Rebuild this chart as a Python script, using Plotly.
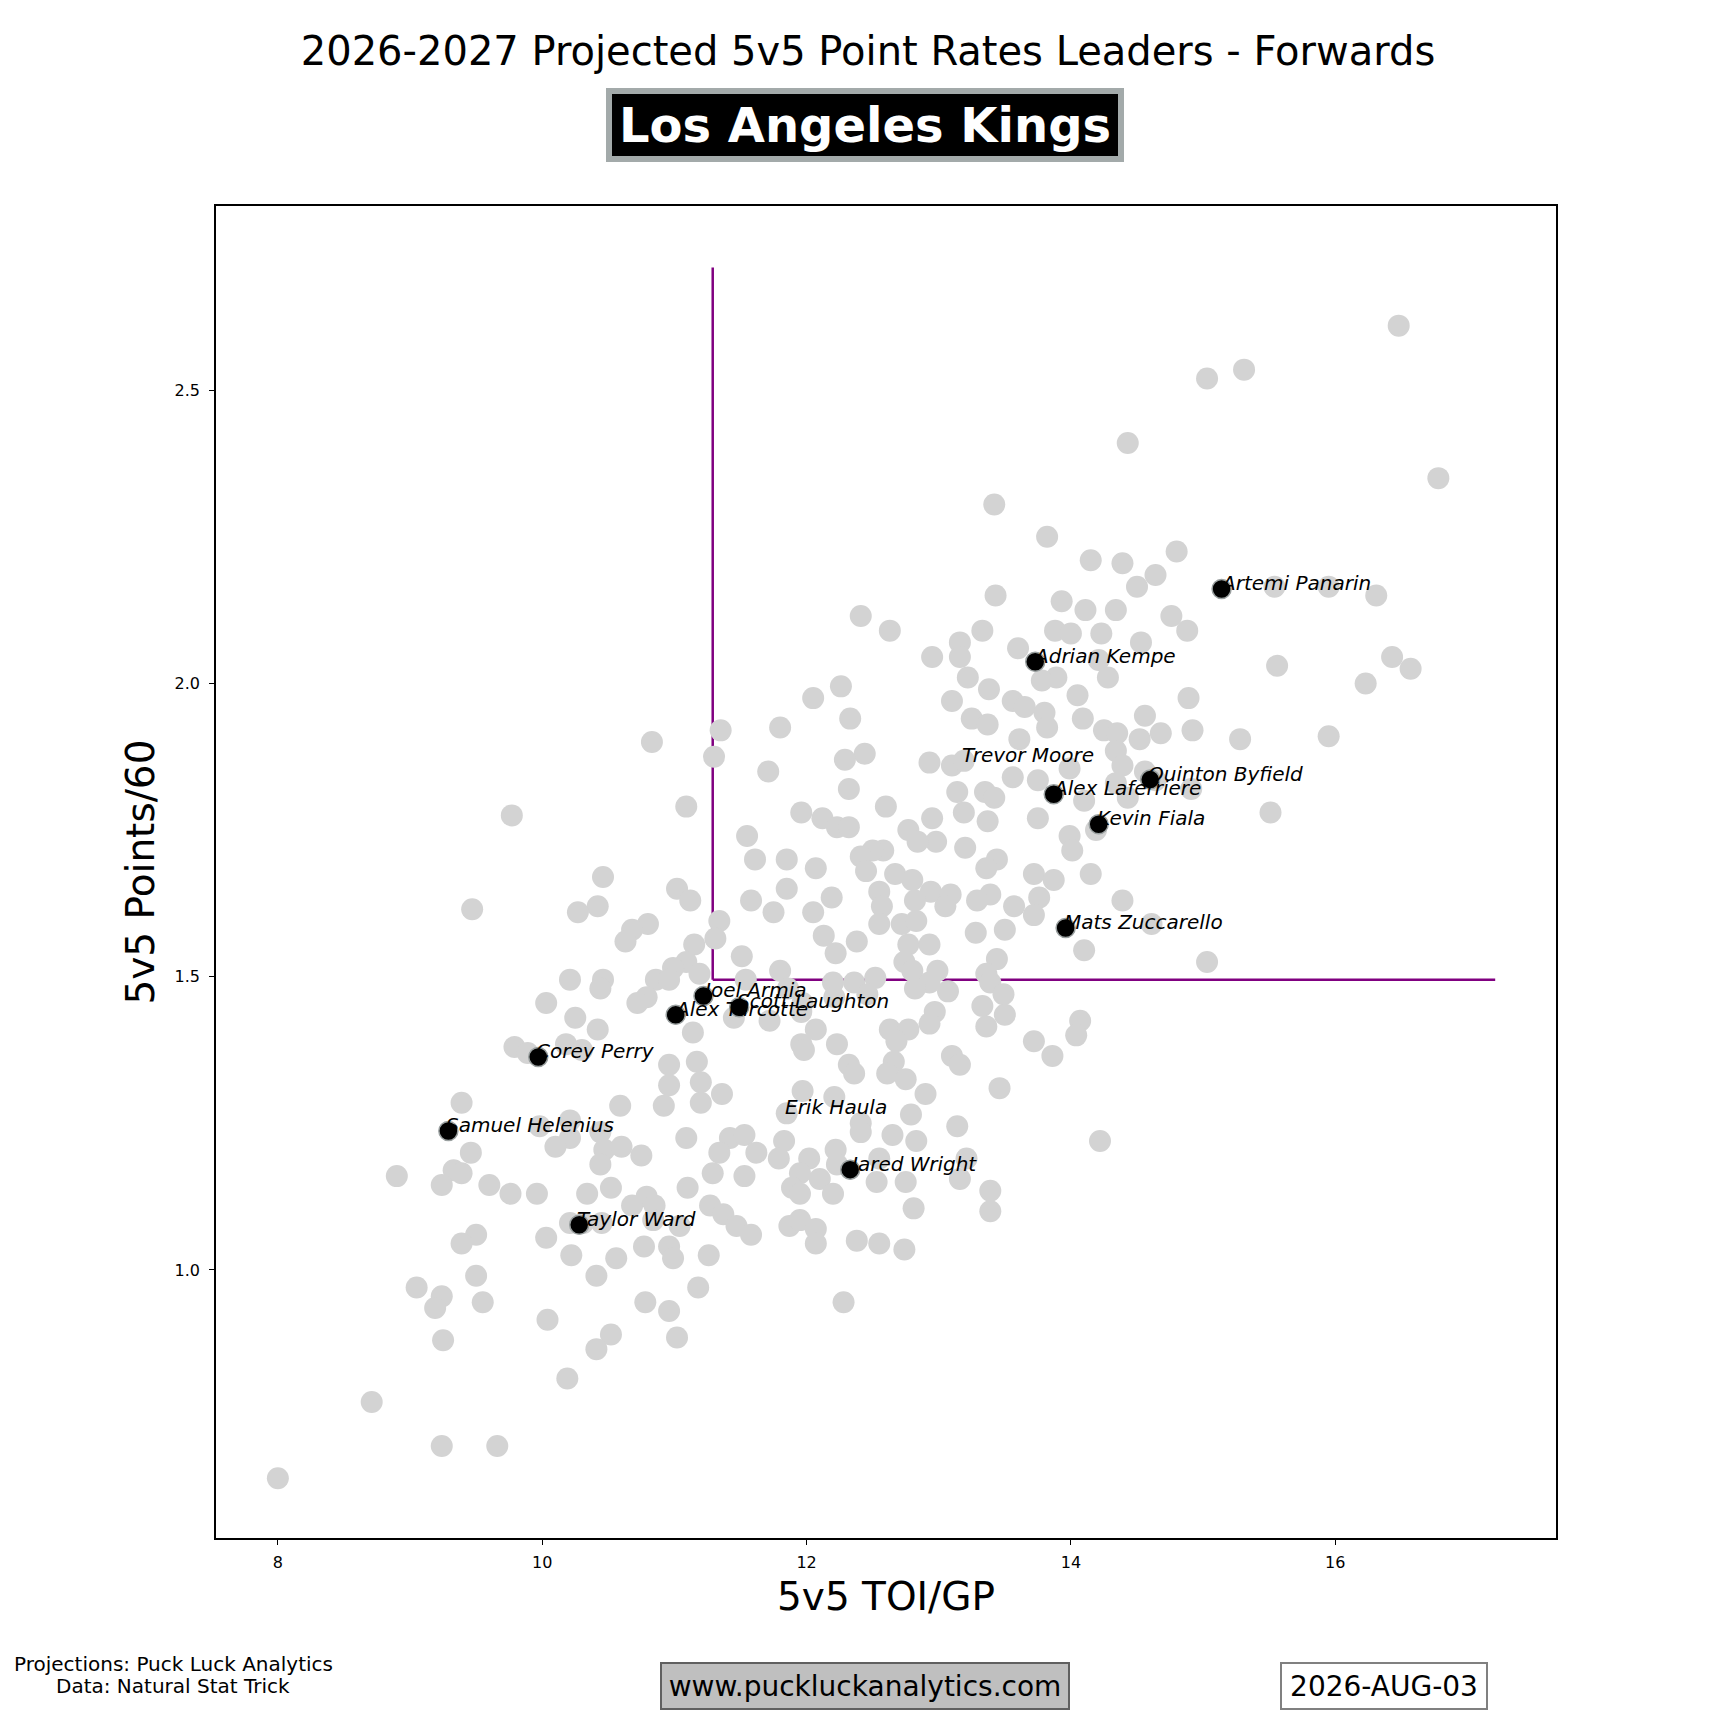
import plotly.graph_objects as go

### 데이터 (league forwards, grey)
league_toi = [
    16.48, 15.31, 15.03, 14.43, 16.78, 13.42, 13.82, 14.80, 14.15, 14.39,
    14.64, 13.43, 13.93, 14.50, 15.54, 15.95, 16.31, 14.11, 14.34, 14.76,
    14.88, 12.41, 12.63, 13.33, 13.88, 14.00, 14.23, 13.16, 13.60, 14.53,
    12.95, 13.16, 14.21, 16.43, 16.57, 15.56, 13.22, 13.89, 14.28, 13.78,
    12.26, 13.38, 16.23, 12.05, 14.05, 14.89, 13.10, 13.56, 14.56, 13.65,
    13.80, 14.09, 12.33, 13.25, 13.37, 11.35, 11.80, 13.82, 14.25, 14.68,
    14.92, 14.35, 13.61, 15.28, 15.95, 10.83, 14.52, 14.34, 12.44, 11.30,
    12.29, 12.93, 13.10, 11.71, 13.56, 13.75, 13.99, 14.56, 14.64, 14.39,
    14.34, 14.91, 15.51, 13.14, 13.35, 13.42, 12.32, 11.09, 12.60, 14.10,
    14.43, 11.96, 12.12, 13.75, 13.37, 13.19, 12.95, 9.77, 12.23, 12.32,
    13.99, 14.19, 11.55, 12.77, 12.98, 12.84, 13.20, 12.58, 12.50, 12.41,
    14.01, 11.61, 11.85, 13.44, 13.36, 12.45, 12.67, 12.07, 14.15, 10.46,
    13.72, 13.87, 12.80, 11.02, 11.85, 12.55, 12.94, 13.09, 13.39, 12.19,
    13.76, 13.57, 11.12, 11.58, 12.57, 12.82, 14.39, 13.05, 13.72, 13.29,
    10.42, 10.27, 9.47, 11.75, 12.05, 11.34, 12.72, 12.83, 14.61, 13.50,
    10.80, 10.68, 12.55, 12.13, 13.28, 10.63, 12.38, 12.77, 12.93, 14.10,
    11.15, 11.31, 12.22, 11.51, 15.03, 12.74, 13.44, 11.09, 10.99, 12.80,
    11.80, 12.99, 13.36, 11.19, 10.86, 10.96, 10.21, 10.46, 12.52, 12.20,
    12.36, 12.93, 13.39, 11.54, 10.44, 11.86, 12.82, 13.07, 13.49, 10.79,
    12.21, 12.46, 11.97, 10.03, 10.72, 13.33, 10.25, 11.45, 11.72, 11.96,
    12.97, 13.50, 14.07, 12.07, 13.36, 12.63, 12.77, 10.42, 11.14, 14.04,
    12.93, 13.72, 10.18, 11.96, 12.23, 12.68, 9.79, 9.89, 11.98, 10.30,
    10.96, 11.17, 13.10, 13.16, 12.32, 12.66, 13.86, 12.36, 12.61, 12.75,
    10.96, 11.20, 11.97, 12.90, 11.36, 13.46, 9.39, 10.59, 10.92, 11.20,
    12.21, 12.41, 12.79, 10.21, 9.98, 13.14, 10.44, 10.21, 11.09, 11.42,
    11.53, 12.65, 12.41, 12.83, 14.22, 11.83, 9.46, 10.10, 10.47, 10.60,
    11.34, 11.62, 12.22, 10.75, 12.02, 12.55, 13.21, 11.79, 10.44, 9.33,
    9.39, 8.90, 11.95, 12.23, 11.29, 11.53, 12.10, 13.16, 9.60, 9.24,
    11.10, 11.89, 12.53, 12.75, 9.76, 9.96, 11.95, 13.39, 12.20, 10.34,
    10.79, 10.52, 10.85, 10.68, 11.27, 11.37, 12.81, 13.39, 10.84, 10.31,
    10.21, 10.45, 11.04, 11.47, 11.58, 11.87, 11.95, 12.07, 10.03, 9.50,
    9.39, 12.07, 12.38, 12.55, 12.74, 10.77, 10.96, 10.22, 10.56, 10.99,
    11.26, 9.50, 10.41, 9.05, 11.18, 9.24, 9.19, 9.55, 10.78, 10.96,
    12.28, 10.04, 10.52, 9.25, 11.02, 10.41, 10.19, 8.71, 9.66, 9.24,
    8.00, 13.19, 11.85,
]
league_pts = [
    2.610, 2.535, 2.520, 2.410, 2.350, 2.305, 2.250, 2.225, 2.210, 2.205,
    2.185, 2.150, 2.140, 2.165, 2.165, 2.165, 2.150, 2.125, 2.125, 2.115,
    2.090, 2.115, 2.090, 2.090, 2.090, 2.085, 2.085, 2.070, 2.060, 2.070,
    2.045, 2.045, 2.040, 2.045, 2.025, 2.030, 2.010, 2.010, 2.010, 2.005,
    1.995, 1.990, 2.000, 1.975, 1.980, 1.975, 1.970, 1.970, 1.945, 1.960,
    1.950, 1.940, 1.940, 1.940, 1.930, 1.920, 1.925, 1.925, 1.920, 1.915,
    1.920, 1.915, 1.905, 1.905, 1.910, 1.900, 1.905, 1.885, 1.880, 1.875,
    1.870, 1.865, 1.860, 1.850, 1.840, 1.835, 1.855, 1.850, 1.835, 1.860,
    1.830, 1.820, 1.780, 1.815, 1.815, 1.805, 1.820, 1.790, 1.790, 1.800,
    1.805, 1.780, 1.770, 1.770, 1.765, 1.780, 1.770, 1.775, 1.755, 1.755,
    1.740, 1.750, 1.740, 1.750, 1.730, 1.730, 1.720, 1.715, 1.715, 1.705,
    1.715, 1.700, 1.700, 1.700, 1.685, 1.680, 1.675, 1.685, 1.675, 1.670,
    1.675, 1.665, 1.665, 1.650, 1.650, 1.645, 1.645, 1.640, 1.640, 1.635,
    1.635, 1.620, 1.630, 1.630, 1.620, 1.630, 1.630, 1.620, 1.605, 1.630,
    1.620, 1.610, 1.615, 1.610, 1.610, 1.595, 1.590, 1.595, 1.590, 1.580,
    1.590, 1.580, 1.590, 1.570, 1.575, 1.560, 1.560, 1.555, 1.555, 1.545,
    1.555, 1.565, 1.540, 1.535, 1.525, 1.525, 1.530, 1.525, 1.515, 1.510,
    1.510, 1.510, 1.505, 1.505, 1.495, 1.495, 1.495, 1.495, 1.498, 1.490,
    1.490, 1.490, 1.490, 1.495, 1.480, 1.480, 1.480, 1.475, 1.470, 1.465,
    1.465, 1.470, 1.455, 1.455, 1.455, 1.450, 1.430, 1.430, 1.425, 1.440,
    1.440, 1.435, 1.425, 1.410, 1.415, 1.410, 1.410, 1.410, 1.405, 1.400,
    1.420, 1.390, 1.385, 1.385, 1.385, 1.390, 1.380, 1.370, 1.375, 1.375,
    1.350, 1.355, 1.365, 1.350, 1.350, 1.355, 1.365, 1.335, 1.335, 1.325,
    1.315, 1.320, 1.305, 1.300, 1.300, 1.310, 1.285, 1.280, 1.280, 1.285,
    1.295, 1.250, 1.265, 1.255, 1.245, 1.245, 1.235, 1.225, 1.225, 1.225,
    1.230, 1.230, 1.235, 1.220, 1.220, 1.220, 1.200, 1.210, 1.205, 1.210,
    1.200, 1.200, 1.205, 1.195, 1.190, 1.190, 1.190, 1.190, 1.180, 1.170,
    1.165, 1.160, 1.165, 1.180, 1.165, 1.160, 1.155, 1.155, 1.145, 1.145,
    1.140, 1.140, 1.150, 1.150, 1.130, 1.130, 1.130, 1.135, 1.130, 1.130,
    1.125, 1.140, 1.110, 1.110, 1.110, 1.095, 1.105, 1.100, 1.085, 1.080,
    1.080, 1.080, 1.075, 1.075, 1.060, 1.075, 1.085, 1.070, 1.055, 1.060,
    1.045, 1.045, 1.050, 1.045, 1.035, 1.040, 1.040, 1.025, 1.020, 1.020,
    1.025, 0.990, 0.990, 0.970, 0.970, 0.955, 0.935, 0.945, 0.945, 0.930,
    0.945, 0.915, 0.890, 0.880, 0.885, 0.865, 0.815, 0.775, 0.700, 0.700,
    0.645, 1.868, 1.267,
]

### 데이터 (Kings forwards, black)
kings_names = ['Artemi Panarin', 'Adrian Kempe', 'Trevor Moore', 'Quinton Byfield',
               'Alex Laferriere', 'Kevin Fiala', 'Mats Zuccarello', 'Joel Armia',
               'Scott Laughton', 'Alex Turcotte', 'Corey Perry', 'Erik Haula',
               'Samuel Helenius', 'Jared Wright', 'Taylor Ward']
kings_toi = [15.14, 13.73, 13.19, 14.60, 13.87, 14.21, 13.96, 11.22,
             11.49, 11.01, 9.97, 11.85, 9.29, 12.33, 10.28]
kings_pts = [2.161, 2.037, 1.868, 1.836, 1.811, 1.760, 1.583, 1.467,
             1.448, 1.435, 1.363, 1.267, 1.237, 1.171, 1.077]
# 회색 점 아래에 가려진 선수
hidden = ['Trevor Moore', 'Erik Haula']

### 기준선
vline_x = [11.29, 11.29]
vline_y = [1.495, 2.709]
hline_x = [11.29, 17.21]
hline_y = [1.495, 1.495]

font = 'DejaVu Sans'

hid_x = [x for x, n in zip(kings_toi, kings_names) if n in hidden]
hid_y = [y for y, n in zip(kings_pts, kings_names) if n in hidden]
vis_x = [x for x, n in zip(kings_toi, kings_names) if n not in hidden]
vis_y = [y for y, n in zip(kings_pts, kings_names) if n not in hidden]

fig = go.Figure()
fig.add_trace(go.Scatter(x=vline_x, y=vline_y, mode='lines',
                         line=dict(color='#800080', width=2.5), hoverinfo='skip'))
fig.add_trace(go.Scatter(x=hline_x, y=hline_y, mode='lines',
                         line=dict(color='#800080', width=2.5), hoverinfo='skip'))
fig.add_trace(go.Scatter(x=hid_x, y=hid_y, mode='markers',
                         marker=dict(color='black', size=19,
                                     line=dict(color='#9aa0a0', width=1.5))))
fig.add_trace(go.Scatter(x=league_toi, y=league_pts, mode='markers',
                         marker=dict(color='#d3d3d3', size=22, line=dict(width=0))))
fig.add_trace(go.Scatter(x=vis_x, y=vis_y, mode='markers',
                         marker=dict(color='black', size=19,
                                     line=dict(color='#9aa0a0', width=1.5))))

# 선수 이름 라벨
for n, x, y in zip(kings_names, kings_toi, kings_pts):
    fig.add_annotation(x=x, y=y, text='<i>' + n + '</i>', showarrow=False,
                       xanchor='left', yanchor='bottom', yshift=-8, xshift=-4,
                       font=dict(family=font, size=20, color='black'))

# 팀 이름 박스
fig.add_annotation(xref='paper', yref='paper', x=0.484, y=1.0608,
                   xanchor='center', yanchor='middle',
                   text='<b>Los Angeles Kings</b>', showarrow=False,
                   font=dict(family=font, size=48, color='white'), width=500,
                   bgcolor='black', bordercolor='#a3aaaa', borderwidth=6, borderpad=3)
# 하단 텍스트
fig.add_annotation(xref='paper', yref='paper', x=-0.032, y=-0.0943,
                   xanchor='center', yanchor='middle',
                   text='Projections: Puck Luck Analytics', showarrow=False,
                   font=dict(family=font, size=20, color='black'))
fig.add_annotation(xref='paper', yref='paper', x=-0.032, y=-0.1109,
                   xanchor='center', yanchor='middle',
                   text='Data: Natural Stat Trick', showarrow=False,
                   font=dict(family=font, size=20, color='black'))
fig.add_annotation(xref='paper', yref='paper', x=0.484, y=-0.1109,
                   xanchor='center', yanchor='middle',
                   text='www.puckluckanalytics.com', showarrow=False,
                   font=dict(family=font, size=28, color='black'), width=394, height=32,
                   bgcolor='#bfbfbf', bordercolor='#606060', borderwidth=2, borderpad=6)
fig.add_annotation(xref='paper', yref='paper', x=0.8716, y=-0.1109,
                   xanchor='center', yanchor='middle',
                   text='2026-AUG-03', showarrow=False,
                   font=dict(family=font, size=28, color='black'), width=192, height=32,
                   bgcolor='white', bordercolor='#808080', borderwidth=2, borderpad=6)

fig.update_layout(
    width=1720, height=1720,
    margin=dict(l=208, r=172, t=198, b=190),
    paper_bgcolor='white', plot_bgcolor='white',
    showlegend=False,
    font=dict(family=font, color='black'),
    title=dict(text='2026-2027 Projected 5v5 Point Rates Leaders - Forwards',
               x=0.5, xanchor='center', y=1 - 43 / 1720, yanchor='middle',
               font=dict(family=font, size=40, color='black')),
    xaxis=dict(range=[7.532, 17.67], tickvals=[8, 10, 12, 14, 16],
               showgrid=False, zeroline=False, showline=True, mirror=True,
               linecolor='black', linewidth=1.5, ticks='outside', ticklen=5,
               tickcolor='black', tickfont=dict(size=16), ticklabelstandoff=4,
               title=dict(text='5v5 TOI/GP', font=dict(size=39), standoff=12)),
    yaxis=dict(range=[0.543, 2.814], tickvals=[1.0, 1.5, 2.0, 2.5], tickformat='.1f',
               showgrid=False, zeroline=False, showline=True, mirror=True,
               linecolor='black', linewidth=1.5, ticks='outside', ticklen=5,
               tickcolor='black', tickfont=dict(size=16), ticklabelstandoff=6,
               title=dict(text='5v5 Points/60', font=dict(size=39), standoff=8)),
)

fig.write_html('out.html')
